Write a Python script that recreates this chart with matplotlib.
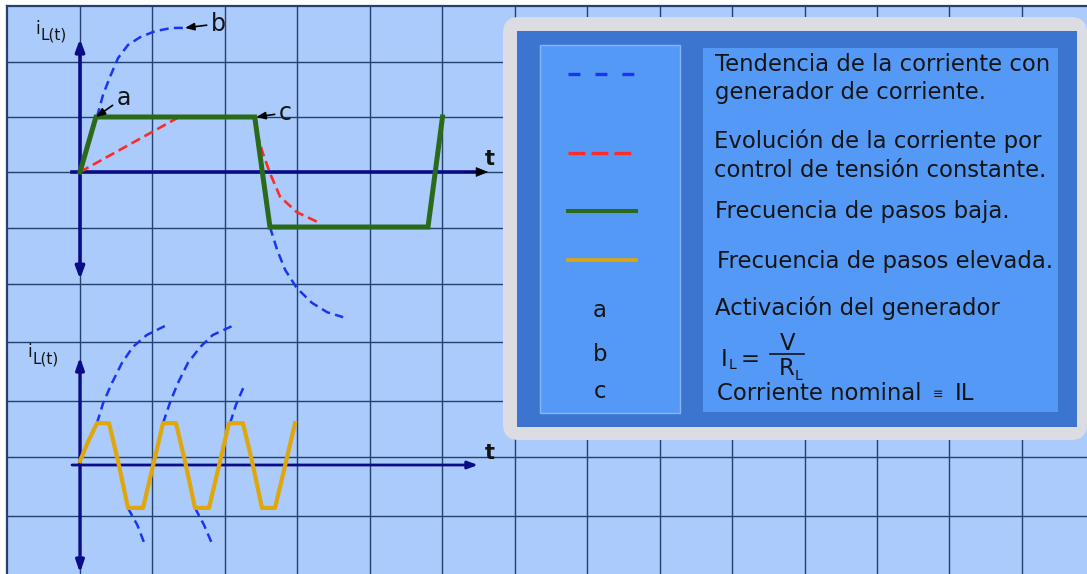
import matplotlib
matplotlib.use("Agg")
import matplotlib.pyplot as plt
from matplotlib.patches import Rectangle, FancyBboxPatch, FancyArrowPatch
from matplotlib.transforms import Affine2D

plt.rcParams['font.family'] = ['DejaVu Sans']
plt.rcParams['lines.scale_dashes'] = False

# ---- waveforms, low step frequency (time / current in grid cells) ----
green_t = [0, 0.22, 2.41, 2.62, 4.80, 5.00]
green_i = [0, 1.00, 1.00, -1.00, -1.00, 1.00]

red_rise_t = [0, 1.34]
red_rise_i = [0, 0.98]
red_fall_t = [2.44, 2.52, 2.62, 2.76, 2.99, 3.31]
red_fall_i = [0.71, 0.35, -0.02, -0.45, -0.73, -0.93]

blue_up_t = [0.234, 0.317, 0.414, 0.524, 0.662, 0.828, 1.034, 1.269, 1.448]
blue_up_i = [1.00, 1.40, 1.73, 2.07, 2.31, 2.45, 2.56, 2.62, 2.62]
blue_down_t = [2.62, 2.72, 2.83, 2.99, 3.20, 3.41, 3.63]
blue_down_i = [-1.00, -1.42, -1.78, -2.11, -2.38, -2.55, -2.64]

# ---- waveforms, high step frequency ----
yellow_t = [0, 0.11, 0.234, 0.40, 0.524, 0.662, 0.869, 0.993, 1.145, 1.324,
            1.448, 1.586, 1.779, 1.903, 2.055, 2.248, 2.372, 2.51, 2.69, 2.814, 2.966]
yellow_i = [0.07, 0.41, 0.74, 0.74, 0.07, -0.76, -0.76, -0.09, 0.74, 0.74,
            0.07, -0.76, -0.76, -0.09, 0.74, 0.74, 0.07, -0.76, -0.76, -0.09, 0.74]

arc_i = [0.74, 1.10, 1.45, 1.81, 2.09, 2.30, 2.46]
arc1_t = [0.234, 0.32, 0.44, 0.58, 0.73, 0.92, 1.17]
arc2_t = [1.145, 1.24, 1.35, 1.49, 1.66, 1.83, 2.10]
arc3_t = [2.07, 2.15, 2.25]
arc3_i = [0.74, 1.06, 1.36]
drop_i = [-0.76, -1.06, -1.36]
drop1_t = [0.66, 0.79, 0.88]
drop2_t = [1.586, 1.71, 1.81]

legend_lines = ["Tendencia de la corriente con",
                "generador de corriente.",
                "Evolución de la corriente por",
                "control de tensión constante.",
                "Frecuencia de pasos baja.",
                "Frecuencia de pasos elevada.",
                "Activación del generador"]
legend_keys = ["a", "b", "c"]

# colours
bg_blue = '#aacbfc'
grid_c = '#24406e'
navy = '#0b0c88'
c_blue = '#1a35f2'
c_red = '#ff2b2b'
c_green = '#2b6a1b'
c_yellow = '#e0a70c'
txt = '#141414'

fig = plt.figure(figsize=(10.87, 5.74), dpi=100)
ax = fig.add_axes([0, 0, 1, 1])
ax.set_xlim(0, 1087)
ax.set_ylim(574, 0)
ax.axis('off')

# squared paper background
ax.add_patch(Rectangle((7, 6), 1080, 568, fc=bg_blue, ec='none', zorder=0))
for k in range(14):
    x = 80 + 72.45 * k
    ax.plot([x, x], [6, 574], color=grid_c, lw=1.0, zorder=1)
for y in [62, 117, 172, 228, 284, 342, 401, 457, 516]:
    ax.plot([7, 1087], [y, y], color=grid_c, lw=1.0, zorder=1)
ax.plot([7, 7], [6, 574], color=grid_c, lw=1.6, zorder=1)
ax.plot([7, 1087], [6, 6], color=grid_c, lw=1.6, zorder=1)

# one grid cell per unit for each diagram
top = Affine2D().scale(72.5, -55).translate(80, 172) + ax.transData
bot = Affine2D().scale(72.5, -56.5).translate(80, 465) + ax.transData


def arrow(p0, p1, tr, style, color, lw, hl, hw, z=3):
    ax.add_patch(FancyArrowPatch(p0, p1, transform=tr, mutation_scale=1,
                                 arrowstyle=f'{style},head_length={hl},head_width={hw}',
                                 color=color, lw=lw, shrinkA=0, shrinkB=0, zorder=z))


# axes of the upper diagram
arrow((0, -1.95), (0, 2.42), top, '<|-|>', navy, 2.6, 7, 2.6)
ax.plot([-0.11, 5.45], [0, 0], transform=top, color=navy, lw=2.6, zorder=3)
arrow((5.30, 0), (5.63, 0), top, '-|>', 'black', 0.5, 8, 3.2, z=4)
ax.text(490, 159, 't', fontsize=15, fontweight='bold', color=txt, ha='center', va='center')

# axes of the lower diagram
arrow((0, -1.91), (0, 1.91), bot, '<|-|>', navy, 2.4, 7, 2.4)
arrow((-0.11, 0), (5.49, 0), bot, '-|>', navy, 2.0, 6, 2.2)
ax.text(490, 453, 't', fontsize=15, fontweight='bold', color=txt, ha='center', va='center')

# current labels
for ix, iy in [(35, 34), (27, 357)]:
    ax.text(ix, iy, 'i', fontsize=12, color=txt, ha='left', va='baseline')
    ax.text(ix + 6, iy + 6, 'L(t)', fontsize=11, color=txt, ha='left', va='baseline')

dash_blue = (0, (6.5, 3.8))
dash_red = (0, (7.0, 3.6))

# upper diagram curves
ax.plot(blue_up_t, blue_up_i, transform=top, color=c_blue, lw=1.8, ls=dash_blue, zorder=5)
ax.plot(blue_down_t, blue_down_i, transform=top, color=c_blue, lw=1.8, ls=dash_blue, zorder=5)
ax.plot(red_rise_t, red_rise_i, transform=top, color=c_red, lw=1.9, ls=dash_red, zorder=5)
ax.plot(red_fall_t, red_fall_i, transform=top, color=c_red, lw=1.9, ls=dash_red, zorder=5)
ax.plot(green_t, green_i, transform=top, color=c_green, lw=3.6, zorder=6,
        solid_joinstyle='miter')

# lower diagram curves
for t_vals, i_vals in [(arc1_t, arc_i), (arc2_t, arc_i), (arc3_t, arc3_i),
                       (drop1_t, drop_i), (drop2_t, drop_i)]:
    ax.plot(t_vals, i_vals, transform=bot, color=c_blue, lw=1.8, ls=dash_blue, zorder=5)
ax.plot(yellow_t, yellow_i, transform=bot, color=c_yellow, lw=3.0, zorder=6)

# point labels
arr = dict(arrowstyle='-|>,head_length=0.55,head_width=0.22', color='black', lw=1.2,
           mutation_scale=10, shrinkA=1, shrinkB=0)
ax.annotate('a', xy=(green_t[1], green_i[1]), xycoords=top, xytext=(20, 14),
            textcoords='offset points', fontsize=17, color=txt, ha='center', va='center',
            arrowprops=arr, zorder=7)
ax.annotate('b', xy=(blue_up_t[-1], blue_up_i[-1]), xycoords=top, xytext=(24, 3),
            textcoords='offset points', fontsize=17, color=txt, ha='center', va='center',
            arrowprops=arr, zorder=7)
ax.annotate('c', xy=(green_t[2] + 0.02, green_i[2]), xycoords=top, xytext=(21, 3),
            textcoords='offset points', fontsize=17, color=txt, ha='center', va='center',
            arrowprops=arr, zorder=7)

# legend panel
ax.add_patch(FancyBboxPatch((503, 17), 584, 423, boxstyle='round,pad=0,rounding_size=16',
                            fc='#dcdde3', ec='none', zorder=8))
ax.add_patch(Rectangle((517, 31), 560, 396, fc='#3b75cf', ec='none', zorder=9))
ax.add_patch(Rectangle((540, 45), 140, 368, fc='#5599f7', ec='#86b4f7', lw=1, zorder=10))
ax.add_patch(Rectangle((703, 48), 355, 364, fc='#5599f7', ec='none', zorder=10))

ax.plot([568, 636], [74, 74], color=c_blue, lw=2.4, ls=(0, (8.6, 10.8)), zorder=11)
ax.plot([568, 632], [153, 153], color=c_red, lw=2.4, ls=(0, (12.2, 4.3)), zorder=11)
ax.plot([568, 636], [211, 211], color=c_green, lw=2.9, zorder=11)
ax.plot([568, 636], [260, 260], color=c_yellow, lw=2.6, zorder=11)

fs = 16.4
line_pos = [(715, 71), (715, 99), (714, 148), (714, 177), (715, 218), (717, 268), (715, 315)]
for (lx, ly), lab in zip(line_pos, legend_lines):
    ax.text(lx, ly, lab, fontsize=fs, color=txt, ha='left', va='baseline', zorder=12)
for key, ky in zip(legend_keys, [317, 361, 398]):
    ax.text(600, ky, key, fontsize=fs, color=txt, ha='center', va='baseline', zorder=12)

# I_L = V / R_L
ax.text(721, 366, 'I', fontsize=fs, color=txt, ha='left', va='baseline', zorder=12)
ax.text(729, 369, 'L', fontsize=10, color=txt, ha='left', va='baseline', zorder=12)
ax.text(741, 366, '=', fontsize=fs, color=txt, ha='left', va='baseline', zorder=12)
ax.plot([770, 804], [354, 354], color=txt, lw=1.2, zorder=12)
ax.text(788, 350, 'V', fontsize=fs, color=txt, ha='center', va='baseline', zorder=12)
ax.text(779, 375, 'R', fontsize=fs, color=txt, ha='left', va='baseline', zorder=12)
ax.text(795, 380, 'L', fontsize=10, color=txt, ha='left', va='baseline', zorder=12)

ax.text(717, 400, 'Corriente nominal', fontsize=fs, color=txt, ha='left', va='baseline', zorder=12)
ax.text(938, 398, '≡', fontsize=9, color=txt, ha='center', va='baseline', zorder=12)
ax.text(955, 400, 'IL', fontsize=fs, color=txt, ha='left', va='baseline', zorder=12)

fig.savefig('out.png', dpi=100, facecolor='white')
